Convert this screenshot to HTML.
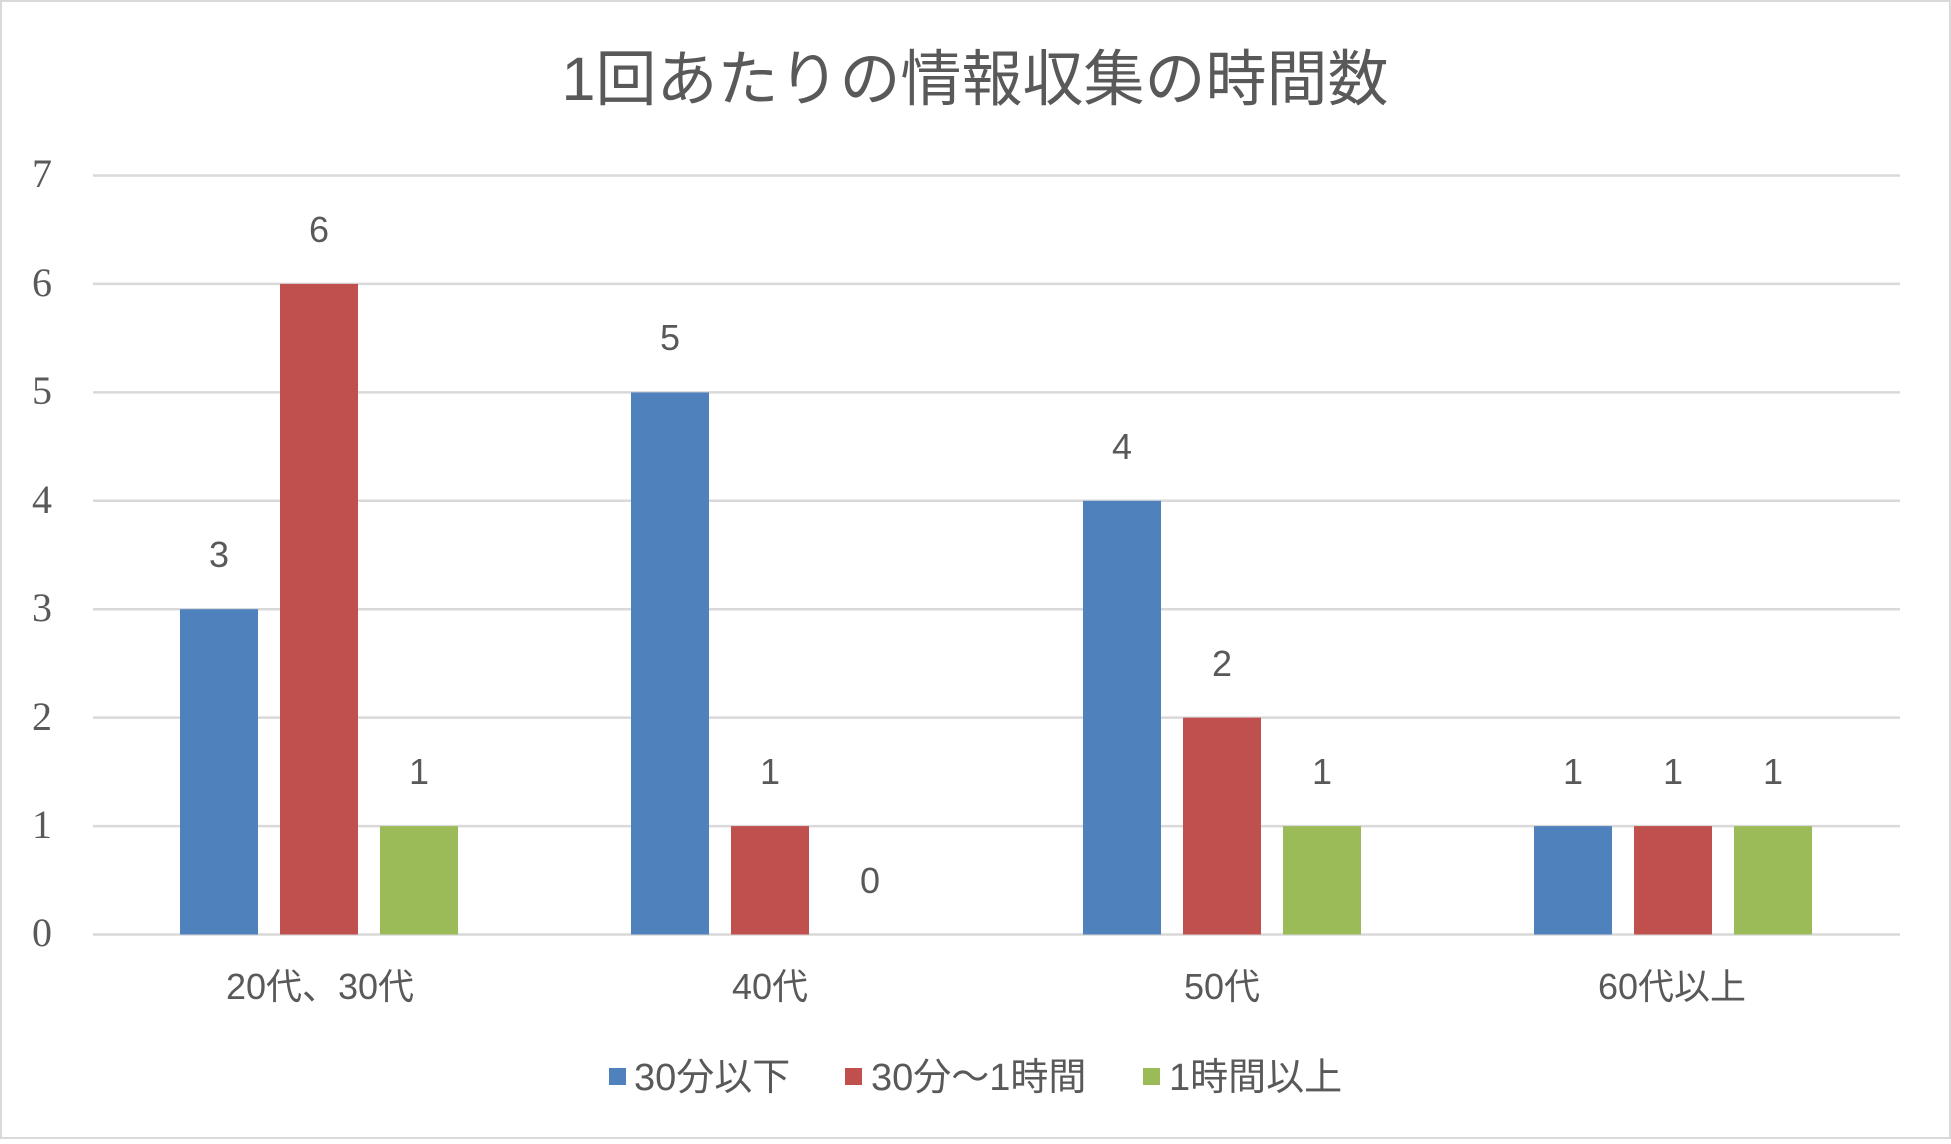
<!DOCTYPE html>
<html><head><meta charset="utf-8"><style>
body{margin:0;background:#fff}
svg text{font-family:"Liberation Sans","Noto Sans CJK JP",sans-serif;fill:#595959}
svg text.s{font-family:"Liberation Serif",serif}
</style></head><body>
<svg width="1951" height="1139" xmlns="http://www.w3.org/2000/svg">
<rect x="1" y="1" width="1949" height="1137" fill="#fff" stroke="#d9d9d9" stroke-width="2"/>
<text x="975" y="100" font-size="61" text-anchor="middle">1回あたりの情報収集の時間数</text>
<g stroke="#d9d9d9" stroke-width="2.5">
<line x1="93" x2="1900" y1="175.5" y2="175.5"/>
<line x1="93" x2="1900" y1="283.9" y2="283.9"/>
<line x1="93" x2="1900" y1="392.4" y2="392.4"/>
<line x1="93" x2="1900" y1="500.8" y2="500.8"/>
<line x1="93" x2="1900" y1="609.2" y2="609.2"/>
<line x1="93" x2="1900" y1="717.6" y2="717.6"/>
<line x1="93" x2="1900" y1="826.1" y2="826.1"/>
<line x1="93" x2="1900" y1="934.5" y2="934.5"/>
</g>
<g font-size="40" text-anchor="middle">
<text class="s" x="42" y="187">7</text><text class="s" x="42" y="296">6</text><text class="s" x="42" y="404">5</text><text class="s" x="42" y="513">4</text><text class="s" x="42" y="621">3</text><text class="s" x="42" y="730">2</text><text class="s" x="42" y="838">1</text><text class="s" x="42" y="946">0</text>
</g>
<g>
<rect x="180" y="609.2" width="78" height="325.3" fill="#4f81bd"/>
<rect x="280" y="283.9" width="78" height="650.6" fill="#c0504d"/>
<rect x="380" y="826.1" width="78" height="108.4" fill="#9bbb59"/>
<rect x="631" y="392.4" width="78" height="542.1" fill="#4f81bd"/>
<rect x="731" y="826.1" width="78" height="108.4" fill="#c0504d"/>
<rect x="1083" y="500.8" width="78" height="433.7" fill="#4f81bd"/>
<rect x="1183" y="717.6" width="78" height="216.9" fill="#c0504d"/>
<rect x="1283" y="826.1" width="78" height="108.4" fill="#9bbb59"/>
<rect x="1534" y="826.1" width="78" height="108.4" fill="#4f81bd"/>
<rect x="1634" y="826.1" width="78" height="108.4" fill="#c0504d"/>
<rect x="1734" y="826.1" width="78" height="108.4" fill="#9bbb59"/>
</g>
<g font-size="36" text-anchor="middle">
<text x="219" y="567">3</text><text x="319" y="242">6</text><text x="419" y="784">1</text>
<text x="670" y="350">5</text><text x="770" y="784">1</text><text x="870" y="893">0</text>
<text x="1122" y="459">4</text><text x="1222" y="676">2</text><text x="1322" y="784">1</text>
<text x="1573" y="784">1</text><text x="1673" y="784">1</text><text x="1773" y="784">1</text>
</g>
<g font-size="36" text-anchor="middle">
<text x="320" y="999">20代、30代</text><text x="770" y="999">40代</text><text x="1222" y="999">50代</text><text x="1672" y="999">60代以上</text>
</g>
<g font-size="38">
<rect x="609" y="1068" width="17" height="17" fill="#4f81bd"/><text x="634" y="1090">30分以下</text>
<rect x="845" y="1068" width="17" height="17" fill="#c0504d"/><text x="871" y="1090">30分～1時間</text>
<rect x="1143" y="1068" width="17" height="17" fill="#9bbb59"/><text x="1169" y="1090">1時間以上</text>
</g>
</svg>
</body></html>
